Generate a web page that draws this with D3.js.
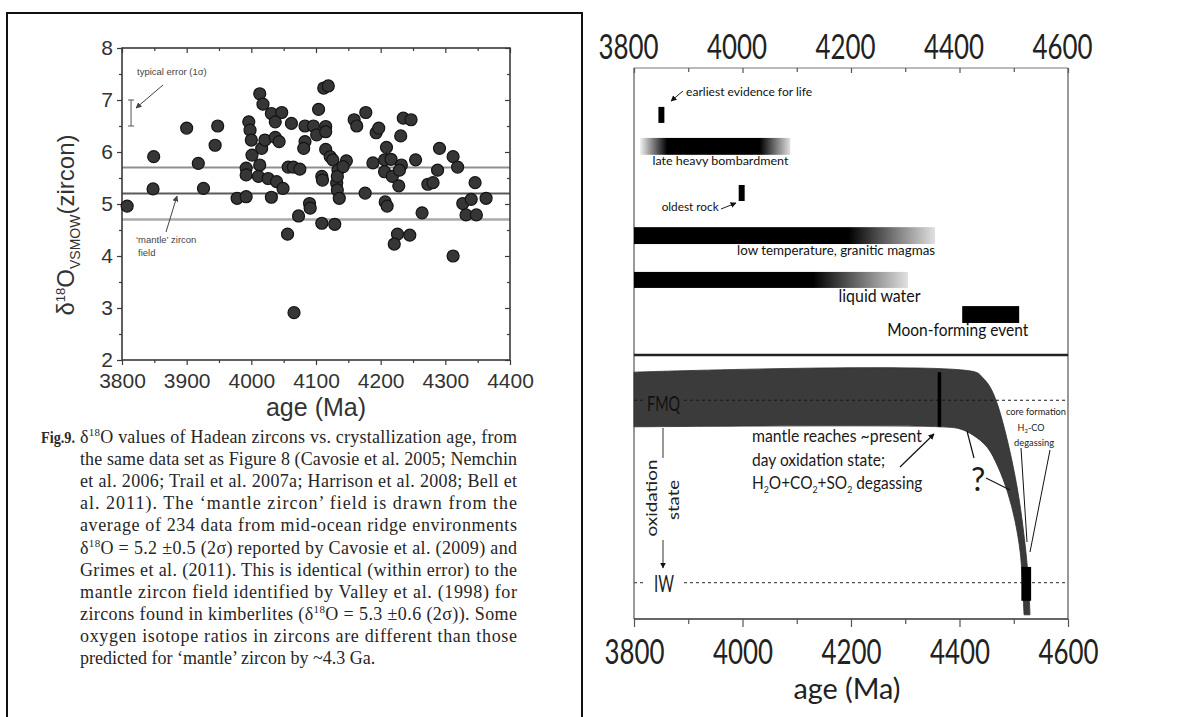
<!DOCTYPE html>
<html><head><meta charset="utf-8">
<script src="https://cdn.jsdelivr.net/npm/d3@7"></script>
<style>body{margin:0;background:#fff;} svg{display:block}</style>
</head><body>
<svg id="c" width="1197" height="717"></svg>
<script>
// ================= DATA =================
// Left panel: δ18O (VSMOW) of Hadean zircons vs age (Ma)
const zirconAge = [3808,3848,3849,3900,3918,3926,3944,3948,3978,3992,3992,3992,3996,3998,4000,4001,
  4013,4018,4016,4021,4037,4043,4013,4011,4026,4039,4049,4031,4047,4037,4062,4031,4057,4065,4075,
  4056,4066,4073,4083,4096,4101,4104,4112,4119,4115,4115,4083,4081,4090,4091,4109,4110,4109,4115,
  4122,4126,4129,4132,4133,4136,4134,4133,4147,4142,4159,4163,4176,4177,4188,4193,4197,4209,4206,
  4216,4206,4218,4228,4207,4210,4226,4221,4245,4231,4235,4247,4232,4229,4254,4264,4273,4281,4288,
  4291,4312,4319,4312,4327,4340,4363,4332,4348,4346];
const zirconD18O = [4.96,5.29,5.91,6.46,5.78,5.30,6.13,6.50,5.11,5.14,5.69,5.56,6.58,6.42,6.23,5.94,
  7.12,6.92,6.07,6.23,6.28,6.20,5.75,5.53,5.49,5.43,5.30,6.74,6.76,6.58,6.55,5.13,5.71,5.71,5.67,
  4.42,2.91,4.77,6.50,6.50,6.33,6.82,7.23,7.27,6.49,6.39,6.20,6.07,5.01,4.92,5.53,5.46,4.63,6.05,
  5.91,5.85,4.61,5.40,5.27,5.11,5.65,5.53,5.83,5.72,6.62,6.50,5.21,6.76,5.79,6.37,6.46,6.09,5.85,
  5.86,5.62,5.53,5.35,5.04,4.96,4.42,4.23,4.40,6.31,6.65,6.62,5.75,5.65,5.85,4.83,5.38,5.41,5.65,
  6.07,5.91,5.71,4.00,5.01,5.09,5.11,4.79,4.79,5.41];
const xTicksLeft = [3800,3900,4000,4100,4200,4300,4400];
const yTicksLeft = [2,3,4,5,6,7,8];
const mantleField = [5.7,5.2,4.7];        // upper, mean, lower
const typicalErrorAge = 3814;
const typicalError = [6.5,7.0];

// Right panel: events (Ma)
const axisTicksRight = [3800,4000,4200,4400,4600];
const eventNames = ["earliest evidence for life","late heavy bombardment","oldest rock",
  "low temperature, granitic magmas","liquid water","Moon-forming event"];
const eventStart     = [3845,3811,3993,3800,3800,4405];
const eventEnd       = [3856,4088,4004,4355,4305,4510];
const eventSolidFrom = [3845,3861,3993,3800,3800,4405];
const eventSolidTo   = [3856,4032,4004,4195,4130,4510];

// Right panel: mantle oxidation state band (log units relative to FMQ)
const bandTopAge = [3800,4430,4443,4456,4469,4488,4506,4517,4526,4530];
const bandTopVal = [0.54,0.54,0.43,0.26,-0.05,-0.76,-1.66,-2.43,-3.32,-4.12];
const bandBotAge = [3800,4364,4401,4425,4451,4471,4489,4502,4512,4517,4519];
const bandBotVal = [-0.51,-0.51,-0.55,-0.67,-0.90,-1.28,-1.78,-2.30,-2.93,-3.70,-4.12];
const bufferNames = ["FMQ","IW"];
const bufferVal = [0,-3.5];
const presentDayAge = 4363;
const coreFormAge = [4514,4532];
const coreFormVal = [-3.2,-3.85];

// ================= LAYOUT =================
const svg = d3.select("#c");
svg.append("rect").attr("width",1197).attr("height",717).attr("fill","#fff");
const SANS = "Liberation Sans, Arial, sans-serif";
const MYR = "Lato, 'Open Sans', sans-serif";
const SERIF = "Liberation Serif, 'Times New Roman', serif";

const defs = svg.append("defs");
function marker(id, color){
  defs.append("marker").attr("id",id).attr("viewBox","0 0 10 10").attr("refX",9).attr("refY",5)
    .attr("markerWidth",6).attr("markerHeight",6).attr("markerUnits","userSpaceOnUse").attr("orient","auto")
    .append("path").attr("d","M0,0 L10,5 L0,10 z").attr("fill",color);
}
marker("arrL","#444");
marker("arrR","#111");

// left page box
svg.append("path").attr("d","M7,717 V13 H582 V717").attr("fill","none").attr("stroke","#111").attr("stroke-width",2);

// ---------- LEFT CHART ----------
const xL = d3.scaleLinear().domain([3800,4400]).range([122,510]);
const yL = d3.scaleLinear().domain([2,8]).range([360,48]);
const gL = svg.append("g");
const fieldStyle = [{c:"#8f8f8f",w:2},{c:"#5a5a5a",w:2},{c:"#aaaaaa",w:2.5}];
mantleField.forEach((v,i)=>{
  gL.append("line").attr("x1",xL.range()[0]).attr("x2",xL.range()[1]).attr("y1",yL(v)).attr("y2",yL(v))
    .attr("stroke",fieldStyle[i].c).attr("stroke-width",fieldStyle[i].w);
});
gL.append("rect").attr("x",122).attr("y",48).attr("width",388).attr("height",312)
  .attr("fill","none").attr("stroke","#3a3a3a").attr("stroke-width",1.6);

function styleAxis(g,size){
  g.select(".domain").remove();
  g.selectAll("line").attr("stroke","#3a3a3a").attr("stroke-width",1.2);
  g.selectAll("text").attr("font-family",SANS).attr("font-size",size).attr("fill","#333");
}
const minorX = d3.range(3850,4400,100);
const minorY = d3.range(2.5,8,1);
gL.append("g").attr("transform","translate(0,360)")
  .call(d3.axisBottom(xL).tickValues(xTicksLeft).tickSize(5).tickPadding(8).tickFormat(d3.format("d"))).call(g=>styleAxis(g,21));
gL.append("g").attr("transform","translate(0,360)")
  .call(d3.axisBottom(xL).tickValues(minorX).tickSize(3).tickFormat("")).call(g=>styleAxis(g,21));
gL.append("g").attr("transform","translate(0,48)")
  .call(d3.axisTop(xL).tickValues(xTicksLeft).tickSize(-5).tickFormat("")).call(g=>styleAxis(g,21));
gL.append("g").attr("transform","translate(0,48)")
  .call(d3.axisTop(xL).tickValues(minorX).tickSize(-3).tickFormat("")).call(g=>styleAxis(g,21));
gL.append("g").attr("transform","translate(122,0)")
  .call(d3.axisLeft(yL).tickValues(yTicksLeft).tickSize(5).tickPadding(4).tickFormat(d3.format("d"))).call(g=>styleAxis(g,21));
gL.append("g").attr("transform","translate(122,0)")
  .call(d3.axisLeft(yL).tickValues(minorY).tickSize(3).tickFormat("")).call(g=>styleAxis(g,21));
gL.append("g").attr("transform","translate(510,0)")
  .call(d3.axisRight(yL).tickValues(yTicksLeft).tickSize(-5).tickFormat("")).call(g=>styleAxis(g,21));
gL.append("g").attr("transform","translate(510,0)")
  .call(d3.axisRight(yL).tickValues(minorY).tickSize(-3).tickFormat("")).call(g=>styleAxis(g,21));

// points
gL.append("g").selectAll("circle").data(zirconAge.map((a,i)=>[a,zirconD18O[i]])).join("circle")
  .attr("cx",d=>xL(d[0])).attr("cy",d=>yL(d[1])).attr("r",6)
  .attr("fill","#363636").attr("stroke","#141414").attr("stroke-width",1.2);

// typical error bar
const exb = xL(typicalErrorAge);
gL.append("path").attr("d",`M${exb},${yL(typicalError[0])}V${yL(typicalError[1])}M${exb-3},${yL(typicalError[0])}H${exb+3}M${exb-3},${yL(typicalError[1])}H${exb+3}`)
  .attr("stroke","#555").attr("stroke-width",1).attr("fill","none");
gL.append("text").attr("x",137).attr("y",75).attr("font-family",SANS).attr("font-size",9.5).attr("fill","#444").text("typical error (1σ)");
gL.append("line").attr("x1",163).attr("y1",85).attr("x2",136).attr("y2",108).attr("stroke","#444").attr("stroke-width",1).attr("marker-end","url(#arrL)");
gL.append("text").attr("x",136).attr("y",243).attr("font-family",SANS).attr("font-size",9.5).attr("fill","#444").text("‘mantle’ zircon");
gL.append("text").attr("x",138).attr("y",256).attr("font-family",SANS).attr("font-size",9.5).attr("fill","#444").text("field");
gL.append("line").attr("x1",166).attr("y1",232).attr("x2",177).attr("y2",196).attr("stroke","#444").attr("stroke-width",1).attr("marker-end","url(#arrL)");

// axis titles
const yt = gL.append("text").attr("transform","translate(74,225) rotate(-90)").attr("text-anchor","middle")
  .attr("font-family",SANS).attr("font-size",24).attr("fill","#333");
yt.append("tspan").text("δ");
yt.append("tspan").attr("dy",-9).attr("font-size",13).text("18");
yt.append("tspan").attr("dy",9).text("O");
yt.append("tspan").attr("dy",6).attr("font-size",14).text("VSMOW");
yt.append("tspan").attr("dy",-6).text("(zircon)");
gL.append("text").attr("x",316).attr("y",416).attr("text-anchor","middle").attr("font-family",SANS)
  .attr("font-size",25).attr("fill","#333").text("age (Ma)");

// caption
const captionLines = [
 "δ^18^O values of Hadean zircons  vs. crystallization age, from",
 "the same data set as Figure 8 (Cavosie et al. 2005; Nemchin",
 "et al. 2006; Trail et al. 2007a; Harrison et al. 2008; Bell et",
 "al. 2011). The ‘mantle zircon’ field is drawn from the",
 "average of 234 data from mid-ocean ridge environments",
 "δ^18^O = 5.2 ±0.5 (2σ) reported by Cavosie et al. (2009) and",
 "Grimes et al. (2011). This is identical (within error) to the",
 "mantle zircon field identified by Valley et al. (1998) for",
 "zircons found in kimberlites (δ^18^O = 5.3 ±0.6 (2σ)). Some",
 "oxygen isotope ratios in zircons are different than those",
 "predicted for ‘mantle’ zircon by ~4.3 Ga."
];
svg.append("text").attr("x",41).attr("y",443).attr("font-family",SERIF).attr("font-size",17)
  .attr("font-weight","bold").attr("fill","#2a2a2a").attr("textLength",34).attr("lengthAdjust","spacingAndGlyphs").text("Fig.9.");
captionLines.forEach((ln,i)=>{
  const t = svg.append("text").attr("x",80).attr("y",443+i*22.1).attr("font-family",SERIF)
    .attr("font-size",18).attr("fill","#262626");
  if(i<captionLines.length-1) t.attr("textLength",437).attr("lengthAdjust","spacing");
  ln.split("^").forEach((p,j)=>{
    if(j%2===1) t.append("tspan").attr("dy",-7).attr("font-size",11).text(p);
    else { const s=t.append("tspan").text(p); if(j>0) s.attr("dy",7); }
  });
});

// ---------- RIGHT CHART ----------
const xR = d3.scaleLinear().domain([3800,4600]).range([634,1068]);
const rowY = d3.scaleLinear().domain([0,100]).range([68,354]);
const yOx = d3.scaleLinear().domain([-4.2,0.85]).range([619,356]);
const gR = svg.append("g");

// frame
gR.append("line").attr("x1",634).attr("x2",1068).attr("y1",68).attr("y2",68).attr("stroke","#777").attr("stroke-width",1);
gR.append("line").attr("x1",634).attr("x2",634).attr("y1",68).attr("y2",619).attr("stroke","#555").attr("stroke-width",1.2);
gR.append("line").attr("x1",1068).attr("x2",1068).attr("y1",68).attr("y2",619).attr("stroke","#555").attr("stroke-width",1.2);
gR.append("line").attr("x1",634).attr("x2",1068).attr("y1",355).attr("y2",355).attr("stroke","#222").attr("stroke-width",2.5);
gR.append("line").attr("x1",634).attr("x2",1068).attr("y1",619).attr("y2",619).attr("stroke","#333").attr("stroke-width",1.5);

// axes
const minorR = d3.range(3900,4600,200);
function styleR(g){ g.select(".domain").remove(); g.selectAll("line").attr("stroke","#555").attr("stroke-width",1.2);
  g.selectAll("text").attr("font-family",MYR).attr("font-size",35).attr("fill","#222")
   .attr("textLength",60).attr("lengthAdjust","spacingAndGlyphs"); }
gR.append("g").attr("transform","translate(0,68)")
  .call(d3.axisTop(xR).tickValues(axisTicksRight).tickSize(-5).tickPadding(9).tickFormat(d3.format("d"))).call(styleR)
  .selectAll("text").attr("dx",-6);
gR.append("g").attr("transform","translate(0,68)")
  .call(d3.axisTop(xR).tickValues(minorR).tickSize(-4).tickFormat("")).call(styleR);
gR.append("g").attr("transform","translate(0,619)")
  .call(d3.axisBottom(xR).tickValues(axisTicksRight).tickSize(8).tickPadding(12).tickFormat(d3.format("d"))).call(styleR);
gR.append("g").attr("transform","translate(0,619)")
  .call(d3.axisBottom(xR).tickValues(minorR).tickSize(5).tickFormat("")).call(styleR);
gR.append("text").attr("x",847).attr("y",699).attr("text-anchor","middle").attr("font-family",MYR)
  .attr("font-size",29).attr("fill","#222").attr("textLength",107).attr("lengthAdjust","spacingAndGlyphs").text("age (Ma)");

// top panel events
const eventRow    = [16.4,27.4,43.7,58.6,74.1,86.2];
const eventHeight = [5.6,5.9,5.6,5.9,5.6,5.9];
eventNames.forEach((n,i)=>{
  const gid = "grad"+i, x0 = xR(eventStart[i]), x1 = xR(eventEnd[i]);
  const gr = defs.append("linearGradient").attr("id",gid).attr("gradientUnits","userSpaceOnUse")
    .attr("x1",x0).attr("x2",x1).attr("y1",0).attr("y2",0);
  const f = a => (xR(a)-x0)/(x1-x0);
  gr.append("stop").attr("offset",0).attr("stop-color","#000").attr("stop-opacity",eventSolidFrom[i]>eventStart[i]?0.05:1);
  gr.append("stop").attr("offset",f(eventSolidFrom[i])).attr("stop-color","#000").attr("stop-opacity",1);
  gr.append("stop").attr("offset",f(eventSolidTo[i])).attr("stop-color","#000").attr("stop-opacity",1);
  gr.append("stop").attr("offset",1).attr("stop-color","#000").attr("stop-opacity",eventSolidTo[i]<eventEnd[i]?0.12:1);
  gR.append("rect").attr("x",x0).attr("width",x1-x0)
    .attr("y",rowY(eventRow[i]-eventHeight[i]/2)).attr("height",rowY(eventHeight[i])-rowY(0))
    .attr("fill",`url(#${gid})`);
});
const labelAge  = [3896,3834,3851,3990,4177,4267];
const labelBase = [96,165,211,255,302,336];
const labelSize = [10.5,12,12,14,17,16.5];
const labelLen  = [126,136,57,198,82,141];
eventNames.forEach((n,i)=>{
  gR.append("text").attr("x",xR(labelAge[i])).attr("y",labelBase[i]).attr("font-family",MYR)
    .attr("font-size",labelSize[i]).attr("fill","#111").attr("textLength",labelLen[i])
    .attr("lengthAdjust","spacingAndGlyphs").text(n);
});
gR.append("line").attr("x1",683).attr("y1",91).attr("x2",671).attr("y2",101).attr("stroke","#222").attr("stroke-width",1).attr("marker-end","url(#arrR)");
gR.append("line").attr("x1",721).attr("y1",209).attr("x2",736).attr("y2",203).attr("stroke","#222").attr("stroke-width",1).attr("marker-end","url(#arrR)");

// bottom panel: oxidation band
const lineGen = d3.line().x(d=>xR(d[0])).y(d=>yOx(d[1])).curve(d3.curveCatmullRom.alpha(0.5));
const topPts = bandTopAge.map((a,i)=>[a,bandTopVal[i]]);
const botPts = bandBotAge.map((a,i)=>[a,bandBotVal[i]]).reverse();
const pathStr = lineGen(topPts) + "L" + lineGen(botPts).slice(1) + "Z";
gR.append("path").attr("d",pathStr).attr("fill","#3b3b3b").attr("stroke","#2e2e2e").attr("stroke-width",0.8);

// buffers (dotted)
bufferNames.forEach((b,i)=>{
  const yy = yOx(bufferVal[i]);
  [[634,646],[684,1068]].forEach(s=>{
    gR.append("line").attr("x1",s[0]).attr("x2",s[1]).attr("y1",yy).attr("y2",yy)
      .attr("stroke",i===0?"#1a1a1a":"#555").attr("stroke-width",1.2).attr("stroke-dasharray","3,3");
  });
});
gR.append("text").attr("x",647).attr("y",yOx(bufferVal[0])+11).attr("font-family",MYR).attr("font-size",21)
  .attr("fill","#111").attr("textLength",33).attr("lengthAdjust","spacingAndGlyphs").text(bufferNames[0]);
gR.append("text").attr("x",654).attr("y",yOx(bufferVal[1])+9).attr("font-family",MYR).attr("font-size",23)
  .attr("fill","#222").attr("textLength",20).attr("lengthAdjust","spacingAndGlyphs").text(bufferNames[1]);

// present-day line & core formation block
gR.append("line").attr("x1",xR(presentDayAge)).attr("x2",xR(presentDayAge))
  .attr("y1",yOx(bandTopVal[0])).attr("y2",yOx(bandBotVal[0])).attr("stroke","#000").attr("stroke-width",3.5);
gR.append("rect").attr("x",xR(coreFormAge[0])).attr("width",xR(coreFormAge[1])-xR(coreFormAge[0]))
  .attr("y",yOx(coreFormVal[0])).attr("height",yOx(coreFormVal[1])-yOx(coreFormVal[0])).attr("fill","#000");

// oxidation state label + arrow
gR.append("text").attr("transform","translate(657,498) rotate(-90)").attr("text-anchor","middle")
  .attr("font-family",MYR).attr("font-size",15).attr("fill","#222").attr("textLength",77)
  .attr("lengthAdjust","spacingAndGlyphs").text("oxidation");
gR.append("text").attr("transform","translate(679,500) rotate(-90)").attr("text-anchor","middle")
  .attr("font-family",MYR).attr("font-size",15).attr("fill","#222").attr("textLength",40)
  .attr("lengthAdjust","spacingAndGlyphs").text("state");
gR.append("line").attr("x1",663).attr("x2",663).attr("y1",428).attr("y2",458).attr("stroke","#333").attr("stroke-width",1);
gR.append("line").attr("x1",663).attr("x2",663).attr("y1",540).attr("y2",568).attr("stroke","#333").attr("stroke-width",1).attr("marker-end","url(#arrR)");

// mantle annotation
const ann = [["mantle reaches ~present",442,170],["day oxidation state;",466,133]];
ann.forEach(a=> gR.append("text").attr("x",752).attr("y",a[1]).attr("font-family",MYR).attr("font-size",17.5)
  .attr("fill","#1a1a1a").attr("textLength",a[2]).attr("lengthAdjust","spacingAndGlyphs").text(a[0]));
const h = gR.append("text").attr("transform","translate(752,489) scale(0.88,1)").attr("font-family",MYR).attr("font-size",17.5)
  .attr("fill","#1a1a1a");
[["H",0],["2",1],["O+CO",0],["2",1],["+SO",0],["2",1],[" degassing",0]].forEach((p,j)=>{
  const s = h.append("tspan").text(p[0]);
  if(p[1]){ s.attr("font-size",10).attr("dy",4); } else if(j>0){ s.attr("dy",-4); }
});
gR.append("line").attr("x1",900).attr("y1",467).attr("x2",934).attr("y2",434).attr("stroke","#111").attr("stroke-width",1.2).attr("marker-end","url(#arrR)");

// question mark
gR.append("text").attr("x",971).attr("y",491).attr("font-family",MYR).attr("font-size",32).attr("fill","#1a1a1a").text("?");
gR.append("line").attr("x1",974).attr("y1",458).attr("x2",967).attr("y2",431).attr("stroke","#111").attr("stroke-width",1.2);
gR.append("line").attr("x1",986).attr("y1",478).attr("x2",1010).attr("y2",490).attr("stroke","#111").attr("stroke-width",1.2);

// core formation annotation
const cf = gR.append("g").attr("font-family",MYR).attr("font-size",9).attr("fill","#222").attr("text-anchor","middle");
cf.append("text").attr("x",1036).attr("y",415).attr("textLength",60).attr("lengthAdjust","spacingAndGlyphs").text("core formation");
const h2 = cf.append("text").attr("x",1031).attr("y",431);
h2.append("tspan").text("H"); h2.append("tspan").attr("font-size",6).attr("dy",2).text("2"); h2.append("tspan").attr("dy",-2).text("-CO");
cf.append("text").attr("x",1034).attr("y",446).attr("textLength",40).attr("lengthAdjust","spacingAndGlyphs").text("degassing");
gR.append("line").attr("x1",1050).attr("y1",450).attr("x2",1030).attr("y2",552).attr("stroke","#111").attr("stroke-width",1);
gR.append("line").attr("x1",1021).attr("y1",448).attr("x2",1027).attr("y2",542).attr("stroke","#111").attr("stroke-width",1);
</script>
</body></html>
